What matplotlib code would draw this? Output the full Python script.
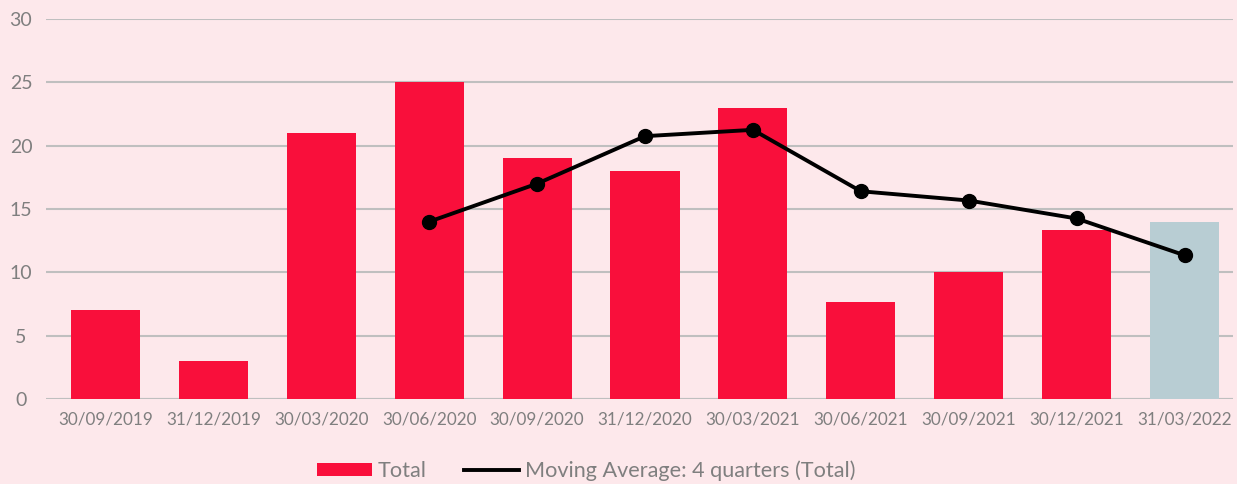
import numpy as np
import matplotlib
matplotlib.use("Agg")
import matplotlib.pyplot as plt
from matplotlib.patches import Patch
from matplotlib.lines import Line2D

quarters = ["30/09/2019", "31/12/2019", "30/03/2020", "30/06/2020", "30/09/2020",
            "31/12/2020", "30/03/2021", "30/06/2021", "30/09/2021", "30/12/2021",
            "31/03/2022"]
total = [7, 3, 21, 25, 19, 18, 23, 7.64, 10, 13.33, 14]
moving_avg = [np.nan, np.nan, np.nan, 14, 17, 20.75, 21.25, 16.4, 15.67, 14.25, 11.35]

RED = "#F90F3B"
GREYBLUE = "#B8CDD3"
BG = "#FDE8EB"
GRID = "#BFBFBF"
TXT = "#7F7F7F"

plt.rcParams["font.family"] = ["Lato", "DejaVu Sans"]

W, H = 1237, 484
fig = plt.figure(figsize=(W / 100, H / 100), dpi=100)
fig.patch.set_facecolor(BG)

# axes placed in pixel terms
left_px, right_px, top_px, bot_px = 46, 1233, 19, 399
ax = fig.add_axes([left_px / W, 1 - bot_px / H, (right_px - left_px) / W, (bot_px - top_px) / H])
ax.set_facecolor(BG)

x = np.arange(len(quarters))
colors = [RED] * (len(quarters) - 1) + [GREYBLUE]
ax.bar(x, total, width=0.64, color=colors, zorder=2)
ax.plot(x, moving_avg, color="black", lw=2.8, marker="o", markersize=10, zorder=3)

# category spacing ~107.9px, first centre at 105.5px
step = 107.9
ax.set_xlim((left_px - 105.5) / step, (right_px - 105.5) / step)
ax.set_ylim(0, 30)
ax.set_yticks(range(0, 31, 5))
ax.set_xticks(x)
ax.set_xticklabels(quarters)

for s in ax.spines.values():
    s.set_visible(False)
ax.yaxis.grid(True, color=GRID, lw=1.5, zorder=0)
ax.set_axisbelow(True)
ax.axhline(0, xmin=(61 - left_px) / (right_px - left_px), xmax=1, color=GRID, lw=1.5, zorder=1)

ax.tick_params(axis="both", length=0)
ax.tick_params(axis="x", labelsize=12.3, labelcolor=TXT, pad=9)
ax.tick_params(axis="y", labelsize=14, labelcolor=TXT, pad=18)
for lab in ax.get_yticklabels():
    lab.set_horizontalalignment("center")

handles = [Patch(facecolor=RED, edgecolor="none"),
           Line2D([0], [0], color="black", lw=2.8)]
leg = fig.legend(handles, ["Total", "Moving Average: 4 quarters (Total)"],
                 loc="center", bbox_to_anchor=(586 / W, 1 - 471 / H), ncol=2,
                 frameon=False, fontsize=15.6, labelcolor=TXT,
                 handlelength=2.55, handleheight=0.55, handletextpad=0.25,
                 columnspacing=1.75)

fig.savefig("out.png", dpi=100, facecolor=BG)
